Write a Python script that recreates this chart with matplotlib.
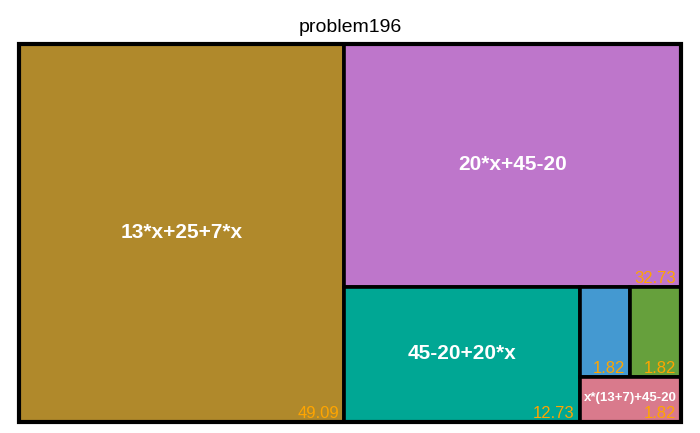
import matplotlib.pyplot as plt
from matplotlib.patches import Rectangle

plt.rcParams['font.family'] = ['Liberation Sans', 'DejaVu Sans']

labels = ["13*x+25+7*x", "20*x+45-20", "45-20+20*x", "", "", "x*(13+7)+45-20"]
values = [49.09, 32.73, 12.73, 1.82, 1.82, 1.82]
colors = ["#B0892B", "#BE76CB", "#00A794", "#4499D1", "#66A03C", "#D97A8C"]
label_sizes = [15, 15, 15, 9.5, 9.5, 9.5]


def worst(row, w):
    s = sum(row)
    return max(max(w * w * r / (s * s), s * s / (w * w * r)) for r in row)


def squarify(areas, x, y, dx, dy):
    # returns rects (x, y, w, h) with y measured downward from top
    rects = []
    areas = list(areas)
    while areas:
        w = min(dx, dy)
        row = [areas[0]]
        i = 1
        while i < len(areas) and worst(row + [areas[i]], w) <= worst(row, w):
            row.append(areas[i])
            i += 1
        areas = areas[i:]
        s = sum(row)
        if dx >= dy:
            cw = s / dy
            yy = y
            for a in row:
                h = a / cw
                rects.append((x, yy, cw, h))
                yy += h
            x += cw
            dx -= cw
        else:
            ch = s / dx
            xx = x
            for a in row:
                ww = a / ch
                rects.append((xx, y, ww, ch))
                xx += ww
            y += ch
            dy -= ch
    return rects


W, H = 662.0, 378.0
total = sum(values)
areas = [v / total * W * H for v in values]
rects = squarify(areas, 0, 0, W, H)

fig = plt.figure(figsize=(7, 4.33), dpi=100)
ax = fig.add_axes([19 / 700, 1 - 422 / 433, 662 / 700, 378 / 433])
ax.set_xlim(0, W)
ax.set_ylim(H, 0)
ax.axis("off")

for (x, y, w, h), lab, val, col, fs in zip(rects, labels, values, colors, label_sizes):
    ax.add_patch(Rectangle((x, y), w, h, facecolor=col, edgecolor="black", linewidth=2.6))
    if lab:
        ax.text(x + w / 2, y + h / 2 - 1, lab, ha="center", va="center", color="white",
                fontsize=fs, fontweight="bold")
    ax.text(x + w - 5, y + h - 1, f"{val:.2f}", ha="right", va="bottom",
            color="#FFA500", fontsize=12)

ax.add_patch(Rectangle((0, 0), W, H, facecolor="none", edgecolor="black", linewidth=3, clip_on=False))

fig.text(350 / 700, 1 - 28 / 433, "problem196", ha="center", va="center", fontsize=14)

fig.savefig("out.png", dpi=100)
